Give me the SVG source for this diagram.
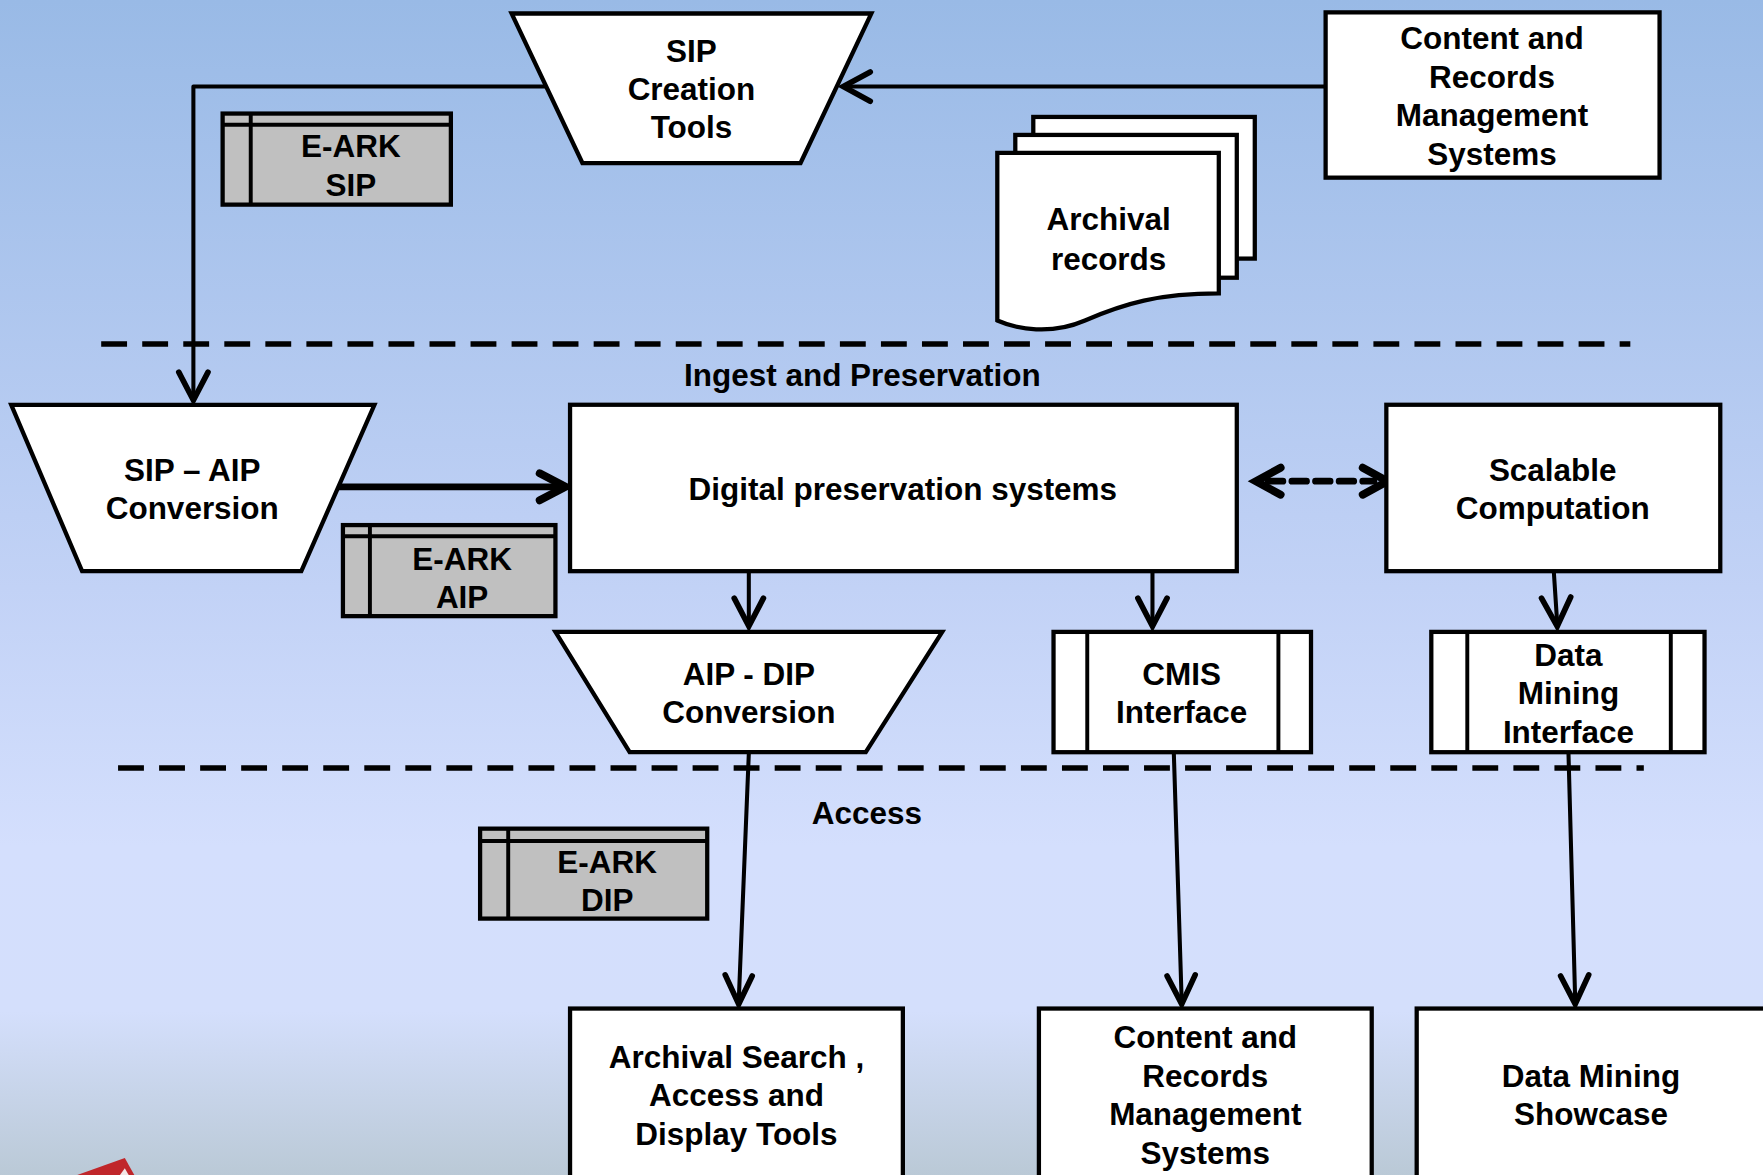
<svg xmlns="http://www.w3.org/2000/svg" width="1763" height="1175" viewBox="0 0 1763 1175">
<defs>
<linearGradient id="bg" x1="0" y1="0" x2="0" y2="1">
<stop offset="0" stop-color="#99BAE6"/>
<stop offset="0.5" stop-color="#C2D2F6"/>
<stop offset="0.72" stop-color="#D4DFFD"/>
<stop offset="0.86" stop-color="#D4DFFC"/>
<stop offset="1" stop-color="#BAC9D6"/>
</linearGradient>
<style>
.box{fill:#FFFFFF;stroke:#000;stroke-width:3.8;stroke-linejoin:miter}
.pkg{fill:#C0C0C0;stroke:#000;stroke-width:3.8}
.ln{fill:none;stroke:#000;stroke-width:3.5}
.con{fill:none;stroke:#000;stroke-width:3.6;stroke-linecap:round;stroke-linejoin:round}
.head{fill:none;stroke:#000;stroke-width:5;stroke-linecap:round;stroke-linejoin:miter}
.thick{fill:none;stroke:#000;stroke-width:6;stroke-linecap:round;stroke-linejoin:round}
.thead{fill:none;stroke:#000;stroke-width:7;stroke-linecap:round;stroke-linejoin:miter}
.dash{fill:none;stroke:#000;stroke-width:5;stroke-dasharray:23 13.5}
text{font-family:"Liberation Sans",Arial,sans-serif;font-weight:bold;font-size:28px;fill:#000;text-anchor:middle}
</style>
</defs>
<g transform="scale(1.12436)">
<rect x="0" y="0" width="1570" height="1046" fill="url(#bg)"/>
<g id="logo-fragment">
<polygon points="66,1046 111,1030 120,1046" fill="#C0262A"/>
<polygon points="106,1046 111,1039 115,1046" fill="#F2E6E6"/>
</g>

<g id="separators">
<line class="dash" x1="90" y1="306" x2="1450" y2="306"/>
<line class="dash" x1="105" y1="683" x2="1462" y2="683"/>
</g>

<g id="connectors">
<path class="con" d="M1179,77 H752"/>
<path class="head" d="M774,64 L750,77 L774,90"/>
<path class="con" d="M486,77 H172 V354"/>
<path class="head" d="M159,331 L172,356 L185,331"/>
<path class="thick" d="M301,433 H501"/>
<path class="thead" d="M480,421 L503,433 L480,445"/>
<path class="thick" d="M1128,428 H1222" stroke-dasharray="13 8" stroke-linecap="butt"/>
<path class="thead" d="M1139,416 L1117,428 L1139,440"/>
<path class="thead" d="M1212,416 L1234,428 L1212,440"/>
<path class="con" d="M666,509 V555"/>
<path class="head" d="M653,532 L666,557 L679,532"/>
<path class="con" d="M1025,509 V555"/>
<path class="head" d="M1012,532 L1025,557 L1038,532"/>
<path class="con" d="M1382,509 L1385,555"/>
<path class="head" d="M1371,532 L1385,557 L1397,531"/>
<path class="con" d="M666,670 L657,891"/>
<path class="head" d="M645,867 L657,893 L669,868"/>
<path class="con" d="M1044,670 L1051,891"/>
<path class="head" d="M1038,868 L1051,893 L1063,867"/>
<path class="con" d="M1395,670 L1401,891"/>
<path class="head" d="M1388,868 L1401,893 L1413,867"/>
</g>

<g id="sip-creation-tools">
<polygon class="box" points="455,12 775,12 712,145 518,145"/>
<text x="615" y="55">SIP<tspan x="615" dy="34">Creation</tspan><tspan x="615" dy="34">Tools</tspan></text>
</g>

<g id="crms-top">
<rect class="box" x="1179" y="11" width="297" height="147"/>
<text x="1327" y="44">Content and<tspan x="1327" dy="34.5">Records</tspan><tspan x="1327" dy="34">Management</tspan><tspan x="1327" dy="34">Systems</tspan></text>
</g>

<g id="eark-sip">
<rect class="pkg" x="198" y="101" width="203" height="81"/>
<line class="ln" x1="198" y1="111" x2="401" y2="111"/>
<line class="ln" x1="223" y1="101" x2="223" y2="182"/>
<text x="312" y="140">E-ARK<tspan x="312" dy="34">SIP</tspan></text>
</g>

<g id="archival-records">
<rect class="box" x="919" y="104" width="197" height="126"/>
<rect class="box" x="903" y="120" width="197" height="127"/>
<path class="box" d="M887,136 H1084 V261 C1030,261 1000,270 965,285 C935,298 905,293 887,285 Z"/>
<text x="986" y="205">Archival<tspan x="986" dy="35">records</tspan></text>
</g>

<text id="label-ingest" x="767" y="343">Ingest and Preservation</text>

<g id="sip-aip-conversion">
<polygon class="box" points="10,360 333,360 268,508 73,508"/>
<text x="171" y="428">SIP – AIP<tspan x="171" dy="34">Conversion</tspan></text>
</g>

<g id="digital-preservation-systems">
<rect class="box" x="507" y="360" width="593" height="148"/>
<text x="803" y="445">Digital preservation systems</text>
</g>

<g id="eark-aip">
<rect class="pkg" x="305" y="467" width="189" height="81"/>
<line class="ln" x1="305" y1="477" x2="494" y2="477"/>
<line class="ln" x1="329" y1="467" x2="329" y2="548"/>
<text x="411" y="507">E-ARK<tspan x="411" dy="34">AIP</tspan></text>
</g>

<g id="scalable-computation">
<rect class="box" x="1233" y="360" width="297" height="148"/>
<text x="1381" y="428">Scalable<tspan x="1381" dy="34">Computation</tspan></text>
</g>

<g id="aip-dip-conversion">
<polygon class="box" points="494,562 838,562 770,669 560,669"/>
<text x="666" y="609">AIP - DIP<tspan x="666" dy="34">Conversion</tspan></text>
</g>

<g id="cmis-interface">
<rect class="box" x="937" y="562" width="229" height="107"/>
<line class="ln" x1="967" y1="562" x2="967" y2="669"/>
<line class="ln" x1="1137" y1="562" x2="1137" y2="669"/>
<text x="1051" y="609">CMIS<tspan x="1051" dy="34">Interface</tspan></text>
</g>

<g id="data-mining-interface">
<rect class="box" x="1273" y="562" width="243" height="107"/>
<line class="ln" x1="1305" y1="562" x2="1305" y2="669"/>
<line class="ln" x1="1486" y1="562" x2="1486" y2="669"/>
<text x="1395" y="592">Data<tspan x="1395" dy="34">Mining</tspan><tspan x="1395" dy="35">Interface</tspan></text>
</g>

<text id="label-access" x="771" y="733">Access</text>

<g id="eark-dip">
<rect class="pkg" x="427" y="737" width="202" height="80"/>
<line class="ln" x1="427" y1="748" x2="629" y2="748"/>
<line class="ln" x1="452" y1="737" x2="452" y2="817"/>
<text x="540" y="776">E-ARK<tspan x="540" dy="34">DIP</tspan></text>
</g>

<g id="archival-search-tools">
<rect class="box" x="507" y="897" width="296" height="165"/>
<text x="655" y="950">Archival Search ,<tspan x="655" dy="34">Access and</tspan><tspan x="655" dy="34">Display Tools</tspan></text>
</g>

<g id="crms-bottom">
<rect class="box" x="924" y="897" width="296" height="165"/>
<text x="1072" y="932">Content and<tspan x="1072" dy="35">Records</tspan><tspan x="1072" dy="34">Management</tspan><tspan x="1072" dy="34">Systems</tspan></text>
</g>

<g id="data-mining-showcase">
<rect class="box" x="1260" y="897" width="330" height="165"/>
<text x="1415" y="967">Data Mining<tspan x="1415" dy="34">Showcase</tspan></text>
</g>
</g>
</svg>
